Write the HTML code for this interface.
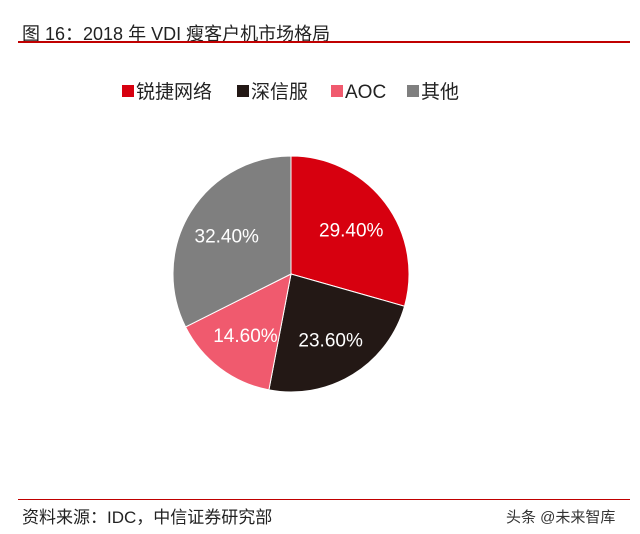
<!DOCTYPE html>
<html><head><meta charset="utf-8"><style>
body{margin:0;background:#fff;width:640px;height:534px;overflow:hidden;font-family:"Liberation Sans","Noto Sans CJK SC",sans-serif;position:relative}
.t{position:absolute;white-space:nowrap}
</style></head><body>
<div class="t" style="left:22px;top:20px;font-size:18px;color:#222">图 16：2018 年 VDI 瘦客户机市场格局</div>
<div style="position:absolute;left:18px;top:41px;width:612px;height:2px;background:#c00000"></div>
<svg width="640" height="534" style="position:absolute;left:0;top:0">
<g id="legend"></g><g id="pie"></g>
</svg>
<div style="position:absolute;left:18px;top:499px;width:612px;height:1px;background:#c00000"></div>
<div class="t" style="left:22px;top:503px;font-size:17px;color:#222">资料来源：IDC，中信证券研究部</div>
<div class="t" style="left:506px;top:506px;font-size:15px;color:#333">头条 @未来智库</div>
<script>
const categories=["锐捷网络","深信服","AOC","其他"];
const values=[29.4,23.6,14.6,32.4];
const labels=["29.40%","23.60%","14.60%","32.40%"];
const colors=["#d7000f","#231815","#f05a6e","#7f7f7f"];
const NS="http://www.w3.org/2000/svg";
const cx=291,cy=274,r=118;
const pie=document.getElementById('pie');
const total=values.reduce((a,b)=>a+b,0);
let a0=0;
values.forEach((v,i)=>{
  const a1=a0+v/total*2*Math.PI;
  const x0=cx+r*Math.sin(a0),y0=cy-r*Math.cos(a0),x1=cx+r*Math.sin(a1),y1=cy-r*Math.cos(a1);
  const p=document.createElementNS(NS,'path');
  p.setAttribute('d',`M${cx},${cy}L${x0},${y0}A${r},${r} 0 ${a1-a0>Math.PI?1:0} 1 ${x1},${y1}Z`);
  p.setAttribute('fill',colors[i]);p.setAttribute('stroke','#fff');p.setAttribute('stroke-width','1');
  
  
  pie.appendChild(p);
  const m=(a0+a1)/2,lr=r*0.64;
  const t=document.createElementNS(NS,'text');
  t.setAttribute('x',cx+lr*Math.sin(m));t.setAttribute('y',cy-lr*Math.cos(m)+8);
  t.setAttribute('text-anchor','middle');t.setAttribute('fill','#fff');t.setAttribute('font-size','19');
  t.setAttribute('font-family','"Liberation Sans",sans-serif');
  t.textContent=labels[i];
  
  
  pie.appendChild(t);
  a0=a1;
});
const lg=document.getElementById('legend');
const lx=[122,237,331,407];
categories.forEach((c,i)=>{
  const s=document.createElementNS(NS,'rect');
  s.setAttribute('x',lx[i]);s.setAttribute('y',85);s.setAttribute('width',12);s.setAttribute('height',12);
  s.setAttribute('fill',colors[i]);
  
  
  lg.appendChild(s);
  const t=document.createElementNS(NS,'text');
  t.setAttribute('x',lx[i]+14);t.setAttribute('y',98);t.setAttribute('font-size','19');t.setAttribute('fill','#222');
  t.setAttribute('font-family','"Liberation Sans","Noto Sans CJK SC",sans-serif');
  t.textContent=c;
  
  
  lg.appendChild(t);
});
</script>
</body></html>
